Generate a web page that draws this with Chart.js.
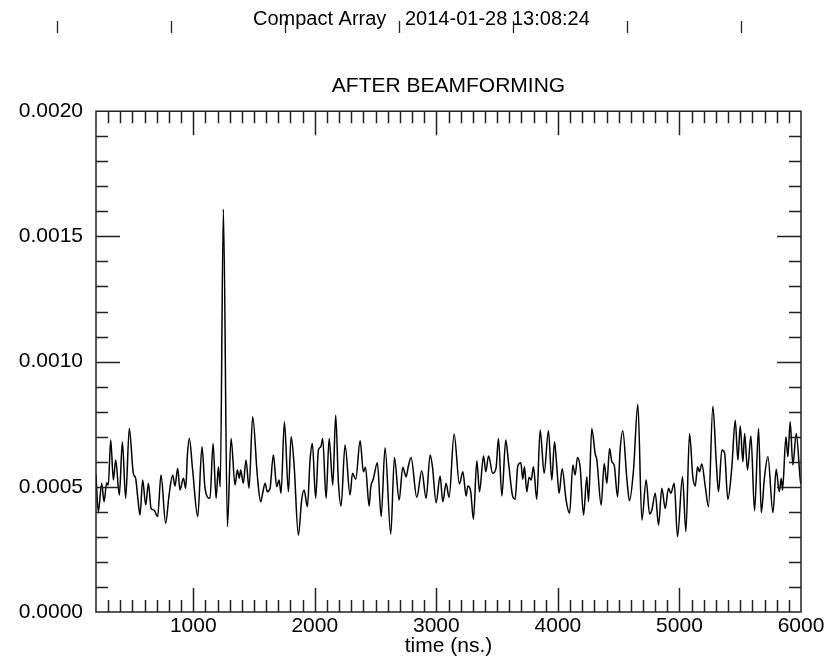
<!DOCTYPE html>
<html>
<head>
<meta charset="utf-8">
<script src="https://cdn.jsdelivr.net/npm/chart.js@4.4.0/dist/chart.umd.min.js"></script>
<style>
html,body{margin:0;padding:0;background:#fff;}
#wrap{width:836px;height:659px;position:relative;}
canvas{display:block;}
</style>
</head>
<body>
<div id="wrap"><canvas id="c" width="836" height="659"></canvas></div>
<script>
// ---- text ----
const headerTexts = ["Compact Array", "2014-01-28", "13:08:24"];
const chartTitle = "AFTER BEAMFORMING";
const xAxisTitle = "time (ns.)";

// ---- tick labels ----
const xTickValues = [1000, 2000, 3000, 4000, 5000, 6000];
const yTickValues = [0.0000, 0.0005, 0.0010, 0.0015, 0.0020];

// ---- series: time (ns) and amplitude ----
const timeNs = [
 200,219,247,266,288,301,321,343,362,392,417,444,474,507,526,543,562,584,609,631,
 653,677,707,735,773,801,831,850,872,891,919,938,952,968,995,1037,1072,1097,1138,1163,
 1188,1207,1222,1248,1281,1311,1344,1363,1379,1390,1412,1434,1459,1489,1528,1555,1571,1591,1610,1632,
 1659,1687,1706,1722,1750,1783,1805,1829,1865,1892,1912,1939,1961,1980,2007,2030,2050,2065,2093,2118,
 2148,2172,2194,2216,2249,2290,2310,2337,2373,2400,2417,2447,2460,2482,2515,2546,2578,2625,2655,2694,
 2724,2751,2770,2792,2839,2880,2916,2949,2968,2998,3031,3053,3080,3105,3146,3190,3218,3245,3259,3283,
 3305,3333,3355,3388,3407,3429,3464,3492,3511,3539,3571,3593,3629,3648,3670,3695,3711,3725,3744,3763,
 3780,3799,3826,3854,3887,3922,3950,3972,3991,4010,4035,4068,4096,4123,4142,4161,4183,4211,4238,4252,
 4279,4307,4320,4356,4381,4403,4425,4444,4463,4491,4512,4534,4567,4589,4622,4658,4691,4726,4754,4773,
 4801,4828,4855,4883,4910,4929,4957,4984,5025,5053,5083,5110,5130,5149,5165,5184,5212,5239,5275,5302,
 5321,5349,5371,5398,5431,5459,5481,5500,5522,5536,5560,5588,5618,5651,5673,5700,5728,5769,5796,5821,
 5838,5848,5876,5892,5911,5933,5961,5994,6000
];
const amplitude = [
 5.47e-4,4.00e-4,5.14e-4,4.40e-4,5.16e-4,5.07e-4,6.87e-4,5.27e-4,6.07e-4,4.67e-4,6.80e-4,4.54e-4,7.33e-4,5.54e-4,5.34e-4,4.60e-4,3.87e-4,5.27e-4,4.27e-4,5.14e-4,
 4.14e-4,4.07e-4,3.81e-4,5.47e-4,3.54e-4,4.67e-4,5.47e-4,5.03e-4,5.74e-4,4.87e-4,5.34e-4,4.94e-4,6.27e-4,6.93e-4,5.67e-4,3.81e-4,6.60e-4,4.94e-4,4.54e-4,6.73e-4,
 4.54e-4,5.80e-4,5.00e-4,16.08e-4,3.41e-4,6.93e-4,5.07e-4,5.67e-4,5.34e-4,5.67e-4,5.14e-4,6.07e-4,4.94e-4,7.80e-4,5.40e-4,4.40e-4,4.74e-4,5.14e-4,4.80e-4,4.94e-4,
 6.27e-4,5.00e-4,5.27e-4,4.74e-4,7.60e-4,4.80e-4,7.00e-4,5.93e-4,3.07e-4,4.47e-4,4.87e-4,4.20e-4,6.07e-4,6.73e-4,4.54e-4,6.47e-4,6.60e-4,6.93e-4,4.54e-4,6.93e-4,
 5.07e-4,7.86e-4,5.20e-4,4.23e-4,6.67e-4,4.67e-4,5.54e-4,5.30e-4,6.84e-4,5.60e-4,5.78e-4,4.23e-4,4.98e-4,5.32e-4,5.96e-4,3.81e-4,6.56e-4,3.11e-4,6.17e-4,4.47e-4,
 5.78e-4,5.40e-4,5.83e-4,6.17e-4,4.58e-4,5.64e-4,4.54e-4,6.27e-4,5.80e-4,4.36e-4,5.43e-4,4.40e-4,5.14e-4,4.58e-4,7.11e-4,5.11e-4,5.60e-4,4.63e-4,5.03e-4,4.80e-4,
 3.70e-4,6.04e-4,4.80e-4,6.23e-4,5.60e-4,6.23e-4,5.54e-4,5.78e-4,6.93e-4,4.63e-4,6.87e-4,6.00e-4,4.60e-4,4.50e-4,5.83e-4,5.96e-4,5.30e-4,5.80e-4,4.80e-4,5.38e-4,
 5.27e-4,5.80e-4,4.50e-4,7.27e-4,5.54e-4,7.24e-4,5.27e-4,6.80e-4,5.80e-4,4.74e-4,5.72e-4,4.45e-4,3.94e-4,5.87e-4,5.47e-4,6.17e-4,5.78e-4,3.87e-4,5.40e-4,4.40e-4,
 7.33e-4,6.31e-4,6.09e-4,4.27e-4,5.93e-4,5.14e-4,6.53e-4,6.00e-4,5.87e-4,4.60e-4,6.47e-4,7.24e-4,5.34e-4,4.44e-4,5.67e-4,8.30e-4,3.67e-4,5.27e-4,3.91e-4,4.07e-4,
 4.74e-4,3.47e-4,4.94e-4,4.14e-4,4.94e-4,4.74e-4,5.14e-4,3.01e-4,5.40e-4,3.21e-4,7.13e-4,5.40e-4,5.03e-4,5.80e-4,5.60e-4,5.91e-4,5.03e-4,4.20e-4,8.22e-4,6.07e-4,
 4.80e-4,6.47e-4,6.36e-4,4.50e-4,5.78e-4,7.66e-4,6.07e-4,7.43e-4,6.00e-4,7.13e-4,5.67e-4,7.03e-4,4.04e-4,7.33e-4,3.97e-4,5.40e-4,6.20e-4,3.97e-4,5.70e-4,4.80e-4,
 5.34e-4,4.87e-4,7.00e-4,6.20e-4,7.60e-4,5.87e-4,7.13e-4,5.27e-4,5.10e-4
];

const FONT = "'Liberation Sans', Arial, Helvetica, sans-serif";

const points = timeNs.map((t, i) => ({ x: t, y: amplitude[i] }));

// frame with inward ticks, using the chart's own scales
const frameTicks = {
  id: 'frameTicks',
  afterDraw(chart) {
    const { ctx, chartArea: a, scales: { x, y } } = chart;
    ctx.save();
    ctx.strokeStyle = '#222';
    ctx.lineWidth = 1.5;
    ctx.beginPath();
    ctx.rect(a.left, a.top, a.right - a.left, a.bottom - a.top);
    for (let t = 300; t < 6000; t += 100) {
      const px = Math.round(x.getPixelForValue(t)) + 0.5;
      const len = (t % 1000 === 0) ? 24 : 12;
      ctx.moveTo(px, a.bottom); ctx.lineTo(px, a.bottom - len);
      ctx.moveTo(px, a.top); ctx.lineTo(px, a.top + len);
    }
    for (let k = 1; k < 20; k++) {
      const py = Math.round(y.getPixelForValue(k * 0.0001)) + 0.5;
      const len = (k % 5 === 0) ? 24 : 12;
      ctx.moveTo(a.left, py); ctx.lineTo(a.left + len, py);
      ctx.moveTo(a.right, py); ctx.lineTo(a.right - len, py);
    }
    ctx.stroke();
    ctx.restore();
  }
};

// header line above the plot
const header = {
  id: 'header',
  afterDraw(chart) {
    const ctx = chart.ctx;
    ctx.save();
    ctx.fillStyle = '#000';
    ctx.font = "20px " + FONT;
    ctx.textBaseline = 'alphabetic';
    ctx.textAlign = 'left';
    const xs = [253, 405, 512];
    headerTexts.forEach((s, i) => ctx.fillText(s, xs[i], 25));
    ctx.strokeStyle = '#222';
    ctx.lineWidth = 1.3;
    ctx.beginPath();
    for (let k = 0; k < 7; k++) {
      const px = 57 + 114 * k + 0.5;
      ctx.moveTo(px, 21); ctx.lineTo(px, 33);
    }
    ctx.stroke();
    ctx.restore();
  }
};

new Chart(document.getElementById('c'), {
  type: 'line',
  data: {
    datasets: [{
      data: points,
      borderColor: '#000',
      borderWidth: 1.5,
      pointRadius: 0,
      cubicInterpolationMode: 'monotone',
      fill: false
    }]
  },
  options: {
    responsive: false,
    animation: false,
    devicePixelRatio: 1,
    layout: { padding: { left: 0, right: 35, top: 0, bottom: 0 } },
    plugins: {
      legend: { display: false },
      tooltip: { enabled: false },
      title: {
        display: true,
        text: chartTitle,
        fullSize: false,
        color: '#000',
        font: { family: FONT, size: 21, weight: 'normal' },
        padding: { top: 74, bottom: 12 }
      }
    },
    scales: {
      x: {
        type: 'linear',
        min: 200,
        max: 6000,
        afterBuildTicks: s => { s.ticks = xTickValues.map(v => ({ value: v })); },
        afterFit: s => { s.height = 47; },
        ticks: {
          color: '#000',
          font: { family: FONT, size: 21 },
          padding: 2,
          maxRotation: 0,
          autoSkip: false,
          callback: v => String(v)
        },
        grid: { display: false, drawTicks: false },
        border: { display: false },
        title: {
          display: true,
          text: xAxisTitle,
          color: '#000',
          font: { family: FONT, size: 21 },
          padding: { top: 0, bottom: 0 }
        }
      },
      y: {
        type: 'linear',
        min: 0,
        max: 0.002,
        afterBuildTicks: s => { s.ticks = yTickValues.map(v => ({ value: v })); },
        afterFit: s => { s.width = 96; },
        ticks: {
          color: '#000',
          font: { family: FONT, size: 21 },
          padding: 13,
          autoSkip: false,
          callback: v => Number(v).toFixed(4)
        },
        grid: { display: false, drawTicks: false },
        border: { display: false }
      }
    }
  },
  plugins: [frameTicks, header]
});
</script>
</body>
</html>
